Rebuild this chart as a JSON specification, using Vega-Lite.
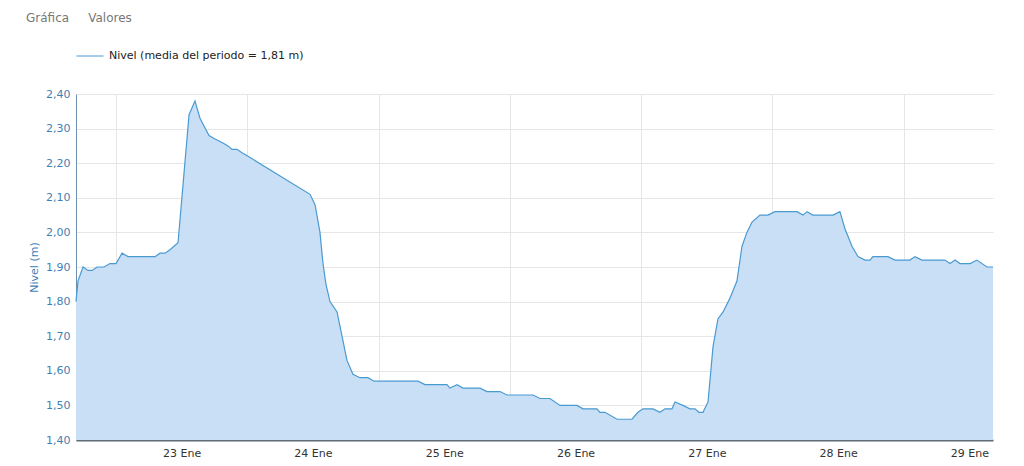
{
  "$schema": "https://vega.github.io/schema/vega-lite/v6.json",
  "width": 917,
  "height": 346,
  "autosize": {"type": "none"},
  "padding": {"left": 76, "top": 94, "right": 31, "bottom": 26},
  "background": "#ffffff",
  "title": {
    "text": "Gráfica\u00a0\u00a0\u00a0\u00a0\u00a0Valores",
    "anchor": "start",
    "frame": "group",
    "dx": -50,
    "offset": 17,
    "font": "DejaVu Sans",
    "fontSize": 12,
    "fontWeight": "normal",
    "color": "#777777"
  },
  "data": {
    "values": [
      {"t": "2025-01-22T16:41", "v": 1.80},
      {"t": "2025-01-22T17:03", "v": 1.86},
      {"t": "2025-01-22T17:58", "v": 1.90},
      {"t": "2025-01-22T18:53", "v": 1.89},
      {"t": "2025-01-22T19:37", "v": 1.89},
      {"t": "2025-01-22T20:32", "v": 1.90},
      {"t": "2025-01-22T21:48", "v": 1.90},
      {"t": "2025-01-22T22:54", "v": 1.91},
      {"t": "2025-01-23T00:00", "v": 1.91},
      {"t": "2025-01-23T01:06", "v": 1.94},
      {"t": "2025-01-23T02:12", "v": 1.93},
      {"t": "2025-01-23T07:08", "v": 1.93},
      {"t": "2025-01-23T08:03", "v": 1.94},
      {"t": "2025-01-23T08:57", "v": 1.94},
      {"t": "2025-01-23T09:52", "v": 1.95},
      {"t": "2025-01-23T11:20", "v": 1.97},
      {"t": "2025-01-23T13:21", "v": 2.34},
      {"t": "2025-01-23T14:26", "v": 2.38},
      {"t": "2025-01-23T15:21", "v": 2.33},
      {"t": "2025-01-23T17:00", "v": 2.28},
      {"t": "2025-01-23T18:06", "v": 2.27},
      {"t": "2025-01-23T19:23", "v": 2.26},
      {"t": "2025-01-23T20:28", "v": 2.25},
      {"t": "2025-01-23T21:12", "v": 2.24},
      {"t": "2025-01-23T22:07", "v": 2.24},
      {"t": "2025-01-23T23:02", "v": 2.23},
      {"t": "2025-01-24T00:08", "v": 2.22},
      {"t": "2025-01-24T11:28", "v": 2.11},
      {"t": "2025-01-24T12:23", "v": 2.08},
      {"t": "2025-01-24T13:17", "v": 2.00},
      {"t": "2025-01-24T13:50", "v": 1.91},
      {"t": "2025-01-24T14:23", "v": 1.85},
      {"t": "2025-01-24T15:07", "v": 1.80},
      {"t": "2025-01-24T16:24", "v": 1.77},
      {"t": "2025-01-24T17:19", "v": 1.70},
      {"t": "2025-01-24T18:13", "v": 1.63},
      {"t": "2025-01-24T19:19", "v": 1.59},
      {"t": "2025-01-24T20:36", "v": 1.58},
      {"t": "2025-01-24T22:04", "v": 1.58},
      {"t": "2025-01-24T23:10", "v": 1.57},
      {"t": "2025-01-25T07:12", "v": 1.57},
      {"t": "2025-01-25T08:29", "v": 1.56},
      {"t": "2025-01-25T12:30", "v": 1.56},
      {"t": "2025-01-25T13:03", "v": 1.55},
      {"t": "2025-01-25T14:20", "v": 1.56},
      {"t": "2025-01-25T15:26", "v": 1.55},
      {"t": "2025-01-25T18:32", "v": 1.55},
      {"t": "2025-01-25T19:49", "v": 1.54},
      {"t": "2025-01-25T22:11", "v": 1.54},
      {"t": "2025-01-25T23:28", "v": 1.53},
      {"t": "2025-01-26T04:13", "v": 1.53},
      {"t": "2025-01-26T05:30", "v": 1.52},
      {"t": "2025-01-26T07:20", "v": 1.52},
      {"t": "2025-01-26T09:10", "v": 1.50},
      {"t": "2025-01-26T12:16", "v": 1.50},
      {"t": "2025-01-26T13:22", "v": 1.49},
      {"t": "2025-01-26T15:55", "v": 1.49},
      {"t": "2025-01-26T16:28", "v": 1.48},
      {"t": "2025-01-26T17:23", "v": 1.48},
      {"t": "2025-01-26T19:35", "v": 1.46},
      {"t": "2025-01-26T22:19", "v": 1.46},
      {"t": "2025-01-26T23:25", "v": 1.48},
      {"t": "2025-01-27T00:20", "v": 1.49},
      {"t": "2025-01-27T02:10", "v": 1.49},
      {"t": "2025-01-27T03:26", "v": 1.48},
      {"t": "2025-01-27T04:21", "v": 1.49},
      {"t": "2025-01-27T05:38", "v": 1.49},
      {"t": "2025-01-27T06:11", "v": 1.51},
      {"t": "2025-01-27T07:38", "v": 1.50},
      {"t": "2025-01-27T08:55", "v": 1.49},
      {"t": "2025-01-27T09:50", "v": 1.49},
      {"t": "2025-01-27T10:34", "v": 1.48},
      {"t": "2025-01-27T11:18", "v": 1.48},
      {"t": "2025-01-27T12:13", "v": 1.51},
      {"t": "2025-01-27T13:08", "v": 1.67},
      {"t": "2025-01-27T14:02", "v": 1.75},
      {"t": "2025-01-27T14:58", "v": 1.77},
      {"t": "2025-01-27T16:14", "v": 1.81},
      {"t": "2025-01-27T17:31", "v": 1.86},
      {"t": "2025-01-27T18:26", "v": 1.96},
      {"t": "2025-01-27T19:20", "v": 2.00},
      {"t": "2025-01-27T20:16", "v": 2.03},
      {"t": "2025-01-27T21:43", "v": 2.05},
      {"t": "2025-01-27T23:11", "v": 2.05},
      {"t": "2025-01-28T00:28", "v": 2.06},
      {"t": "2025-01-28T04:29", "v": 2.06},
      {"t": "2025-01-28T05:35", "v": 2.05},
      {"t": "2025-01-28T06:19", "v": 2.06},
      {"t": "2025-01-28T07:24", "v": 2.05},
      {"t": "2025-01-28T11:04", "v": 2.05},
      {"t": "2025-01-28T12:20", "v": 2.06},
      {"t": "2025-01-28T13:16", "v": 2.01},
      {"t": "2025-01-28T14:32", "v": 1.96},
      {"t": "2025-01-28T15:38", "v": 1.93},
      {"t": "2025-01-28T16:55", "v": 1.92},
      {"t": "2025-01-28T17:50", "v": 1.92},
      {"t": "2025-01-28T18:22", "v": 1.93},
      {"t": "2025-01-28T21:07", "v": 1.93},
      {"t": "2025-01-28T22:23", "v": 1.92},
      {"t": "2025-01-29T01:08", "v": 1.92},
      {"t": "2025-01-29T02:03", "v": 1.93},
      {"t": "2025-01-29T03:20", "v": 1.92},
      {"t": "2025-01-29T07:32", "v": 1.92},
      {"t": "2025-01-29T08:27", "v": 1.91},
      {"t": "2025-01-29T09:22", "v": 1.92},
      {"t": "2025-01-29T10:17", "v": 1.91},
      {"t": "2025-01-29T12:07", "v": 1.91},
      {"t": "2025-01-29T13:23", "v": 1.92},
      {"t": "2025-01-29T15:13", "v": 1.90},
      {"t": "2025-01-29T16:19", "v": 1.90}
    ]
  },
  "encoding": {
    "x": {
      "field": "t",
      "type": "temporal",
      "scale": {
        "domain": [
          {"year": 2025, "month": 1, "date": 22, "hours": 16, "minutes": 41},
          {"year": 2025, "month": 1, "date": 29, "hours": 16, "minutes": 19}
        ]
      }
    },
    "y": {
      "field": "v",
      "type": "quantitative",
      "scale": {"domain": [1.4, 2.4], "zero": false, "nice": false, "clamp": true},
      "axis": {
        "title": "Nivel (m)",
        "values": [1.4, 1.5, 1.6, 1.7, 1.8, 1.9, 2.0, 2.1, 2.2, 2.3, 2.4],
        "labelExpr": "replace(format(datum.value, '.2f'), '.', ',')",
        "labelFont": "DejaVu Sans",
        "labelFontSize": 11,
        "labelColor": "#3f7fb3",
        "labelPadding": 6,
        "ticks": false,
        "domain": true,
        "domainColor": "#6f8fae",
        "domainWidth": 1,
        "grid": true,
        "gridColor": "#e6e6e6",
        "titleFont": "DejaVu Sans",
        "titleFontSize": 11,
        "titleFontWeight": "normal",
        "titleColor": "#3f7fb3",
        "titlePadding": 6
      }
    }
  },
  "layer": [
    {
      "mark": {"type": "area", "color": "#c9dff5", "opacity": 1},
      "encoding": {
        "x": {
          "field": "t",
          "type": "temporal",
          "axis": {
            "orient": "bottom",
            "title": null,
            "values": [
              {"year": 2025, "month": 1, "date": 23},
              {"year": 2025, "month": 1, "date": 24},
              {"year": 2025, "month": 1, "date": 25},
              {"year": 2025, "month": 1, "date": 26},
              {"year": 2025, "month": 1, "date": 27},
              {"year": 2025, "month": 1, "date": 28},
              {"year": 2025, "month": 1, "date": 29}
            ],
            "labels": false,
            "ticks": false,
            "grid": true,
            "gridColor": "#e6e6e6",
            "domain": true,
            "domainColor": "#5f6b75",
            "domainWidth": 2
          }
        }
      }
    },
    {
      "mark": {"type": "line", "strokeWidth": 1.2},
      "encoding": {
        "x": {
          "field": "t",
          "type": "temporal",
          "axis": {
            "orient": "bottom",
            "title": null,
            "values": [
              {"year": 2025, "month": 1, "date": 23, "hours": 12},
              {"year": 2025, "month": 1, "date": 24, "hours": 12},
              {"year": 2025, "month": 1, "date": 25, "hours": 12},
              {"year": 2025, "month": 1, "date": 26, "hours": 12},
              {"year": 2025, "month": 1, "date": 27, "hours": 12},
              {"year": 2025, "month": 1, "date": 28, "hours": 12},
              {"year": 2025, "month": 1, "date": 29, "hours": 12}
            ],
            "format": "%-d Ene",
            "labelFont": "DejaVu Sans",
            "labelFontSize": 11,
            "labelColor": "#333333",
            "labelPadding": 7,
            "ticks": false,
            "grid": false,
            "domain": false
          }
        },
        "stroke": {
          "datum": "Nivel (media del periodo = 1,81 m)",
          "type": "nominal",
          "scale": {"range": ["#4a9ad2"]},
          "legend": {
            "orient": "top",
            "title": null,
            "symbolType": "stroke",
            "symbolSize": 729,
            "symbolStrokeWidth": 1,
            "labelFont": "DejaVu Sans",
            "labelFontSize": 11,
            "labelColor": "#222222",
            "labelOffset": 5,
            "labelLimit": 400,
            "offset": 33,
            "padding": 0
          }
        }
      }
    }
  ],
  "resolve": {"axis": {"x": "independent"}},
  "config": {"view": {"stroke": null}}
}
